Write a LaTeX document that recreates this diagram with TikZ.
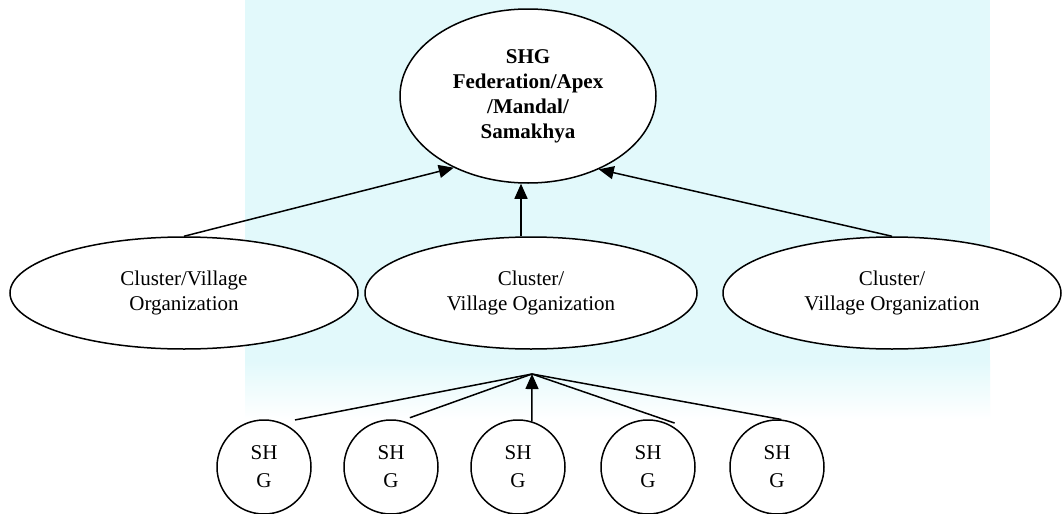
\documentclass[tikz,border=0pt]{standalone}
\usepackage{fontspec}
\setmainfont{Liberation Serif}
\usetikzlibrary{shapes.geometric,arrows.meta}
\definecolor{wm}{RGB}{226,249,251}
\begin{document}
\begin{tikzpicture}[x=1pt,y=-1pt,
  ell/.style={ellipse,draw,fill=white,line width=1.5pt,inner sep=0pt,align=center,font=\fontsize{21}{25}\selectfont},
  shg/.style={circle,draw,fill=white,line width=1.5pt,inner sep=0pt,minimum size=94pt,align=center,font=\fontsize{21}{28}\selectfont},
  conn/.style={line width=1.5pt},
  arr/.style={line width=1.5pt,-{Triangle[length=15pt,width=13pt]}}]
\useasboundingbox (0,0) rectangle (1063,514);
\fill[white] (0,0) rectangle (1063,514);
\fill[wm] (245,0) rectangle (990,360);
\shade[top color=wm,bottom color=white] (245,360) rectangle (990,420);
\node[ell,minimum width=256pt,minimum height=174pt,font=\bfseries\fontsize{21}{25}\selectfont] (top) at (528,96) {SHG\\Federation/Apex\\/Mandal/\\Samakhya};
\node[ell,minimum width=348pt,minimum height=112pt] (l) at (184,293) {Cluster/Village\\Organization};
\node[ell,minimum width=332pt,minimum height=112pt] (m) at (531,293) {Cluster/\\Village Oganization};
\node[ell,minimum width=338pt,minimum height=112pt] (r) at (892,293) {Cluster/\\Village Organization};
\node[shg] (s1) at (264,467) {SH\\G};
\node[shg] (s2) at (391,467) {SH\\G};
\node[shg] (s3) at (518,467) {SH\\G};
\node[shg] (s4) at (648,467) {SH\\G};
\node[shg] (s5) at (777,467) {SH\\G};
\coordinate (hub) at (532,374);
\draw[arr] (l.north) -- (top.224);
\draw[arr] ([xshift=-10pt]m.north) -- ([xshift=-10pt]m.north |- top.south);
\draw[arr] (r.north) -- (top.314);
\draw[conn] ([shift={(5,-7)}]s1.57) -- (hub);
\draw[conn] ([shift={(1,-5)}]s2.68) -- (hub);
\draw[arr] (s3.73) -- (hub);
\draw[conn] ([shift={(2,-3)}]s4.59) -- (hub);
\draw[conn] (s5.85) -- (hub);
\end{tikzpicture}
\end{document}
